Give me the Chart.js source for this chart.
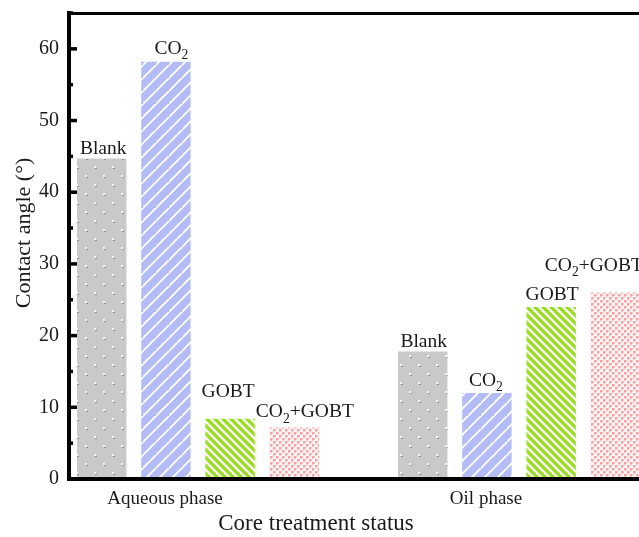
<!DOCTYPE html>
<html>
<head>
<meta charset="utf-8">
<script src="https://cdn.jsdelivr.net/npm/chart.js@4.4.1/dist/chart.umd.min.js"></script>
<style>
  html, body { margin: 0; padding: 0; background: #fff; overflow: hidden; }
</style>
</head>
<body>
<canvas id="chart" width="639" height="537"></canvas>
<script>
  // data
  const categories = ['Aqueous phase', 'Oil phase'];
  const groupPos = [1, 2];
  const seriesNames = ['Blank', 'CO2', 'GOBT', 'CO2+GOBT'];
  const blank = [44.7, 17.8];
  const co2 = [58.2, 12.0];
  const gobt = [8.4, 24.0];
  const co2Gobt = [7.2, 26.0];
  const yTicks = [0, 10, 20, 30, 40, 50, 60];

  // hand placed bar annotations, [dx, dy] from bar centre / top
  const labelShift = [
    [[1.5, -5], [1, -4]],
    [[5.5, -8], [-1, -7]],
    [[-2, -22], [1, -7]],
    [[10.5, -10], [-21.5, -22]]
  ];

  const serif = "'Liberation Serif', 'Times New Roman', serif";

  function tile(w, h, paint) {
    const c = document.createElement('canvas');
    c.width = w; c.height = h;
    const g = c.getContext('2d');
    paint(g, w, h);
    return document.getElementById('chart').getContext('2d').createPattern(c, 'repeat');
  }

  // gray with small light dots
  const dotFill = tile(18, 18, (g) => {
    g.fillStyle = '#c9c9c9';
    g.fillRect(0, 0, 18, 18);
    [[4, 4], [13, 13]].forEach(([x, y]) => {
      g.fillStyle = '#f6f6f6';
      g.fillRect(x, y, 2, 2);
      g.fillStyle = '#8e8e8e';
      g.fillRect(x + 1, y + 2, 2, 1);
    });
  });

  // blue with white "/" stripes
  const blueFill = tile(13, 13, (g, w, h) => {
    g.fillStyle = '#b4bcf8';
    g.fillRect(0, 0, w, h);
    g.strokeStyle = '#ffffff';
    g.lineWidth = 1.8;
    g.beginPath();
    g.moveTo(-1, h + 1); g.lineTo(w + 1, -1);
    g.moveTo(-w - 1, h + 1); g.lineTo(1, -1);
    g.moveTo(w - 1, 2 * h + 1); g.lineTo(2 * w + 1, h - 1);
    g.stroke();
  });

  // green with white "\" stripes
  const greenFill = tile(8, 8, (g, w, h) => {
    g.fillStyle = '#9ddd2a';
    g.fillRect(0, 0, w, h);
    g.strokeStyle = '#ffffff';
    g.lineWidth = 2.2;
    g.beginPath();
    g.moveTo(-1, -1); g.lineTo(w + 1, h + 1);
    g.moveTo(-w - 1, -1); g.lineTo(1, h + 1);
    g.moveTo(w - 1, -1); g.lineTo(2 * w + 1, h + 1);
    g.stroke();
  });

  // pink dotted grid
  const pinkFill = tile(6, 6, (g) => {
    g.fillStyle = '#fff4f4';
    g.fillRect(0, 0, 6, 6);
    [[0, 0], [3, 3]].forEach(([x, y]) => {
      g.fillStyle = '#f7a2a2';
      g.fillRect(x, y, 2, 2);
      g.fillStyle = '#fbc4c4';
      g.fillRect(x + 2, y, 1, 2);
      g.fillRect(x, y + 2, 2, 1);
    });
  });

  const fills = [dotFill, blueFill, greenFill, pinkFill];
  const series = [blank, co2, gobt, co2Gobt];

  function drawLabel(ctx, text, cx, base, size) {
    // "CO2" gets a subscript 2
    const parts = [];
    text.split('CO2').forEach((seg, i) => {
      if (i > 0) { parts.push({ t: 'CO', sub: false }); parts.push({ t: '2', sub: true }); }
      if (seg) parts.push({ t: seg, sub: false });
    });
    let w = 0;
    parts.forEach(p => {
      ctx.font = (p.sub ? size * 0.7 : size) + 'px ' + serif;
      p.w = ctx.measureText(p.t).width;
      w += p.w;
    });
    let x = cx - w / 2;
    ctx.textAlign = 'left';
    ctx.textBaseline = 'alphabetic';
    ctx.fillStyle = '#1a1a1a';
    parts.forEach(p => {
      ctx.font = (p.sub ? size * 0.7 : size) + 'px ' + serif;
      ctx.fillText(p.t, x, p.sub ? base + size * 0.28 : base);
      x += p.w;
    });
  }

  const decorations = {
    id: 'decorations',
    afterDatasetsDraw(chart) {
      const ctx = chart.ctx;
      const area = chart.chartArea;
      const y = chart.scales.y;
      ctx.save();
      // bar labels
      chart.data.datasets.forEach((ds, di) => {
        chart.getDatasetMeta(di).data.forEach((bar, i) => {
          const [dx, dy] = labelShift[di][i];
          drawLabel(ctx, seriesNames[di], bar.x + dx, bar.y + dy, 19.5);
        });
      });
      ctx.strokeStyle = '#000';
      // axis lines on top of the bars
      ctx.lineWidth = 4;
      ctx.beginPath();
      ctx.moveTo(area.left - 2, area.bottom);
      ctx.lineTo(chart.width, area.bottom);
      ctx.moveTo(area.left, area.bottom + 2);
      ctx.lineTo(area.left, area.top - 1);
      ctx.stroke();
      // top frame line
      ctx.lineWidth = 3;
      ctx.beginPath();
      ctx.moveTo(area.left - 2, area.top + 0.5);
      ctx.lineTo(chart.width, area.top + 0.5);
      ctx.stroke();
      // inward ticks, major and minor
      ctx.lineWidth = 3.5;
      for (let v = 0; v <= 65; v += 5) {
        const py = y.getPixelForValue(v);
        const len = v % 10 === 0 ? 8 : 4;
        ctx.beginPath();
        ctx.moveTo(area.left, py);
        ctx.lineTo(area.left + len, py);
        ctx.stroke();
      }
      // axis titles
      ctx.fillStyle = '#1a1a1a';
      ctx.font = '23px ' + serif;
      ctx.textAlign = 'center';
      ctx.textBaseline = 'alphabetic';
      ctx.fillText('Core treatment status', 316, 530);
      ctx.translate(30, 233);
      ctx.rotate(-Math.PI / 2);
      ctx.font = '22px ' + serif;
      ctx.fillText('Contact angle (\u00b0)', 0, 0);
      ctx.restore();
    }
  };

  new Chart(document.getElementById('chart'), {
    type: 'bar',
    data: {
      datasets: series.map((vals, di) => ({
        label: seriesNames[di],
        data: vals.map((v, i) => ({ x: groupPos[i], y: v })),
        backgroundColor: fills[di],
        borderWidth: 0,
        categoryPercentage: 0.8,
        barPercentage: 0.77
      }))
    },
    options: {
      responsive: false,
      animation: false,
      layout: { padding: { top: 13, right: 0, left: 0, bottom: 0 } },
      plugins: { legend: { display: false }, tooltip: { enabled: false } },
      scales: {
        x: {
          type: 'linear',
          min: 0.5981,
          max: 2.3738,
          offset: false,
          afterBuildTicks: (s) => { s.ticks = groupPos.map(v => ({ value: v })); },
          afterFit: (s) => { s.height = 58; s.paddingLeft = 0; s.paddingRight = 0; },
          grid: { display: false, drawTicks: false },
          border: { display: true, width: 4, color: '#000' },
          ticks: {
            callback: (v, i) => categories[i],
            labelOffset: -33,
            padding: 9,
            maxRotation: 0,
            autoSkip: false,
            color: '#1a1a1a',
            font: { family: serif, size: 19 }
          }
        },
        y: {
          min: 0,
          max: 65,
          afterBuildTicks: (s) => { s.ticks = yTicks.map(v => ({ value: v })); },
          afterFit: (s) => { s.width = 69; s.paddingTop = 0; s.paddingBottom = 0; },
          grid: { display: false, drawTicks: false },
          border: { display: true, width: 4, color: '#000' },
          ticks: {
            padding: 10,
            color: '#1a1a1a',
            font: { family: serif, size: 20 }
          }
        }
      }
    },
    plugins: [decorations]
  });
</script>
</body>
</html>
